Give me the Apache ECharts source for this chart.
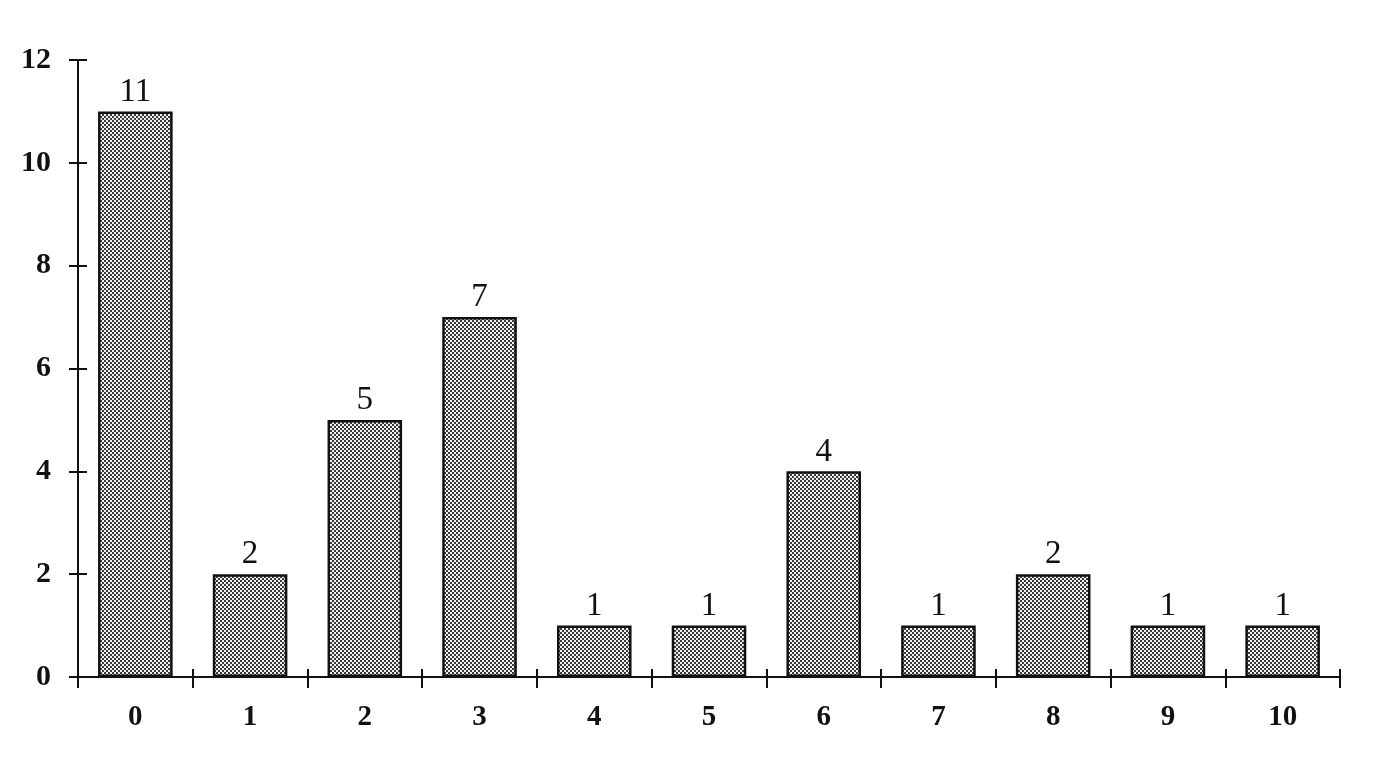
<!DOCTYPE html>
<html><head><meta charset="utf-8">
<script src="https://cdn.jsdelivr.net/npm/echarts@6/dist/echarts.min.js"></script>
<style>html,body{margin:0;padding:0;background:#fff}#c{width:1383px;height:768px}</style>
</head><body><div id="c"></div>
<script>
const categories = ['0','1','2','3','4','5','6','7','8','9','10'];
const values = [11, 2, 5, 7, 1, 1, 4, 1, 2, 1, 1];
const yTicks = [0, 2, 4, 6, 8, 10, 12];

function makePattern() {
  const c = document.createElement('canvas');
  c.width = 4; c.height = 4;
  const g = c.getContext('2d');
  g.fillStyle = '#f0f0f0'; g.fillRect(0,0,4,4);
  g.fillStyle = '#3a3a3a';
  g.fillRect(0,0,2,2);
  g.fillRect(2,2,2,2);
  return c;
}
const serif = '"Liberation Serif", "DejaVu Serif", serif';
const chart = echarts.init(document.getElementById('c'));
const axisLine = {lineStyle:{color:'#111', width:2}};
chart.setOption({
  animation:false,
  backgroundColor:'#fff',
  grid:{left:78, right:43, top:60, bottom:91},
  xAxis:[{
    type:'category', data:categories, boundaryGap:true,
    axisLine:axisLine,
    axisTick:{show:true, length:11, lineStyle:{color:'#111', width:2}},
    axisLabel:{margin:26, fontFamily:serif, fontSize:29, fontWeight:'bold', color:'#111'}
  },{
    type:'category', data:categories, position:'bottom', boundaryGap:true,
    axisLine:{show:false},
    axisTick:{show:true, inside:true, length:8, lineStyle:{color:'#111', width:2}},
    axisLabel:{show:false}
  }],
  yAxis:[{
    type:'value', min:0, max:12, interval:2,
    axisLine:{show:true, lineStyle:{color:'#111', width:2}},
    axisTick:{show:true, length:9, lineStyle:{color:'#111', width:2}},
    splitLine:{show:false},
    axisLabel:{margin:27, fontFamily:serif, fontSize:30, fontWeight:'bold', color:'#111',
      formatter:v=>yTicks.includes(v)?String(v):''}
  },{
    type:'value', min:0, max:12, interval:2, position:'left',
    axisLine:{show:false},
    axisTick:{show:true, inside:true, length:9, lineStyle:{color:'#111', width:2}},
    splitLine:{show:false}, axisLabel:{show:false}
  }],
  series:[{
    type:'bar', data:values, barWidth:'65%',
    itemStyle:{color:{image:makePattern(), repeat:'repeat'}, borderColor:'#111', borderWidth:2.5},
    label:{show:true, position:'top', distance:3, fontFamily:serif, fontSize:33, color:'#111'}
  }]
});
</script></body></html>
